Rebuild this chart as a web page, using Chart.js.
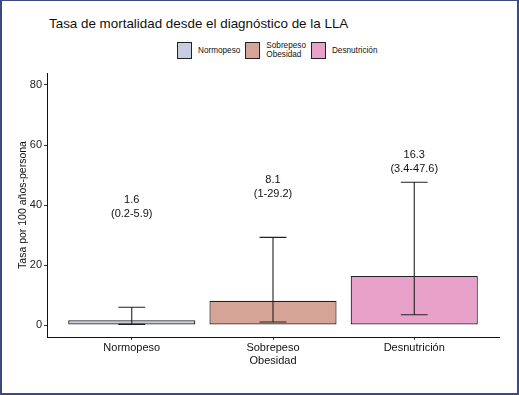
<!DOCTYPE html>
<html lang="es">
<head>
  <meta charset="UTF-8" />
  <title>Tasa de mortalidad</title>
  <style>
    html, body {
      margin: 0;
      padding: 0;
      background: #fff;
    }
    #frame {
      position: relative;
      width: 519px;
      height: 395px;
      box-sizing: border-box;
      border: 2px solid #3b4a80;
      border-top-width: 1px;
      font-family: "Liberation Sans", Arial, sans-serif;
      overflow: hidden;
    }
    #title {
      position: absolute;
      left: 47px;
      top: 15px;
      font-size: 13.4px;
      color: #111;
    }
    #legend {
      position: absolute;
      top: 40px;
      left: 175px;
      display: flex;
      align-items: center;
      font-size: 8.2px;
      color: #111;
      line-height: 9px;
    }
    .item { display: flex; align-items: center; margin-right: 5px; }
    .box {
      width: 13px;
      height: 15px;
      border: 1px solid #222;
      margin-right: 6px;
    }
    #chartWrap {
      position: absolute;
      left: -2px;
      top: -1px;
      width: 519px;
      height: 395px;
    }
  </style>
</head>
<body>
  <div id="frame">
    <div id="title">Tasa de mortalidad desde el diagnóstico de la LLA</div>
    <div id="legend"></div>
    <div id="chartWrap"><canvas id="chart" width="519" height="395"></canvas></div>
  </div>

  <script src="https://cdn.jsdelivr.net/npm/chart.js"></script>
  <script>
    // datos
    const categories = ["Normopeso", "Sobrepeso\nObesidad", "Desnutrición"];
    const rates = [1.6, 8.1, 16.3];
    const lower = [0.2, 1, 3.4];
    const upper = [5.9, 29.2, 47.6];
    const colors = ["#c9cde2", "#d6a496", "#e8a1c9"];
    const yTicks = [0, 20, 40, 60, 80];

    // altura (en unidades del eje) donde va la etiqueta de cada barra
    const labelAt = [41.7, 48.3, 56.7];

    // leyenda
    const legend = document.getElementById("legend");
    categories.forEach((c, i) => {
      const item = document.createElement("div");
      item.className = "item";
      const box = document.createElement("div");
      box.className = "box";
      box.style.background = colors[i];
      const txt = document.createElement("div");
      txt.innerHTML = c.replace("\n", "<br>");
      item.appendChild(box);
      item.appendChild(txt);
      legend.appendChild(item);
    });

    const errorBars = {
      id: "errorBars",
      afterDatasetsDraw(chart) {
        const ctx = chart.ctx;
        const xs = chart.scales.x, ys = chart.scales.y;
        ctx.save();
        ctx.strokeStyle = "#222";
        ctx.lineWidth = 1.1;
        rates.forEach((r, i) => {
          const x = xs.getPixelForValue(i + 1);
          const cap = xs.getPixelForValue(i + 1.095) - x;
          const yl = ys.getPixelForValue(lower[i]);
          const yu = ys.getPixelForValue(upper[i]);
          ctx.beginPath();
          ctx.moveTo(x, yl); ctx.lineTo(x, yu);
          ctx.moveTo(x - cap, yl); ctx.lineTo(x + cap, yl);
          ctx.moveTo(x - cap, yu); ctx.lineTo(x + cap, yu);
          ctx.stroke();

          // etiquetas
          ctx.fillStyle = "#111";
          ctx.font = "11px 'Liberation Sans', Arial, sans-serif";
          ctx.textAlign = "center";
          ctx.textBaseline = "middle";
          const ly = ys.getPixelForValue(labelAt[i]);
          ctx.fillText(String(r), x, ly);
          ctx.fillText("(" + lower[i] + "-" + upper[i] + ")", x, ly + 14);
        });
        ctx.restore();
      }
    };

    const ctx = document.getElementById("chart").getContext("2d");
    new Chart(ctx, {
      type: "bar",
      data: {
        datasets: [{
          data: rates.map((v, i) => ({ x: i + 1, y: v })),
          backgroundColor: colors,
          borderColor: "#222",
          borderWidth: 1.2,
          borderSkipped: false,
          barPercentage: 0.9,
          categoryPercentage: 1
        }]
      },
      options: {
        responsive: false,
        animation: false,
        layout: { padding: { top: 73, right: 20, left: 0, bottom: 0 } },
        plugins: {
          legend: { display: false },
          tooltip: { enabled: false }
        },
        scales: {
          x: {
            type: "linear",
            offset: false,
            min: 0.4,
            max: 3.6,
            afterBuildTicks: s => { s.ticks = [1, 2, 3].map(v => ({ value: v })); },
            afterFit: s => { s.height = 58; },
            ticks: {
              color: "#111",
              font: { family: "'Liberation Sans', Arial, sans-serif", size: 11 },
              padding: 1,
              maxRotation: 0,
              autoSkip: false,
              callback: v => categories[v - 1] ? categories[v - 1].split("\n") : ""
            },
            grid: { offset: false, drawOnChartArea: false, drawTicks: true, tickLength: 3, color: "#333" },
            border: { display: true, color: "#111", width: 1 }
          },
          y: {
            min: -4,
            max: 84,
            afterBuildTicks: s => { s.ticks = yTicks.map(v => ({ value: v })); },
            afterFit: s => { s.width = 47; },
            ticks: {
              color: "#222",
              font: { family: "'Liberation Sans', Arial, sans-serif", size: 11 },
              padding: 2
            },
            grid: { drawOnChartArea: false, drawTicks: true, tickLength: 3, color: "#333" },
            border: { display: true, color: "#111", width: 1 },
            title: {
              display: true,
              text: "Tasa por 100 años-persona",
              color: "#111",
              font: { family: "'Liberation Sans', Arial, sans-serif", size: 10.5 },
              padding: { top: 17, bottom: 0 }
            }
          }
        }
      },
      plugins: [errorBars]
    });
  </script>
</body>
</html>
